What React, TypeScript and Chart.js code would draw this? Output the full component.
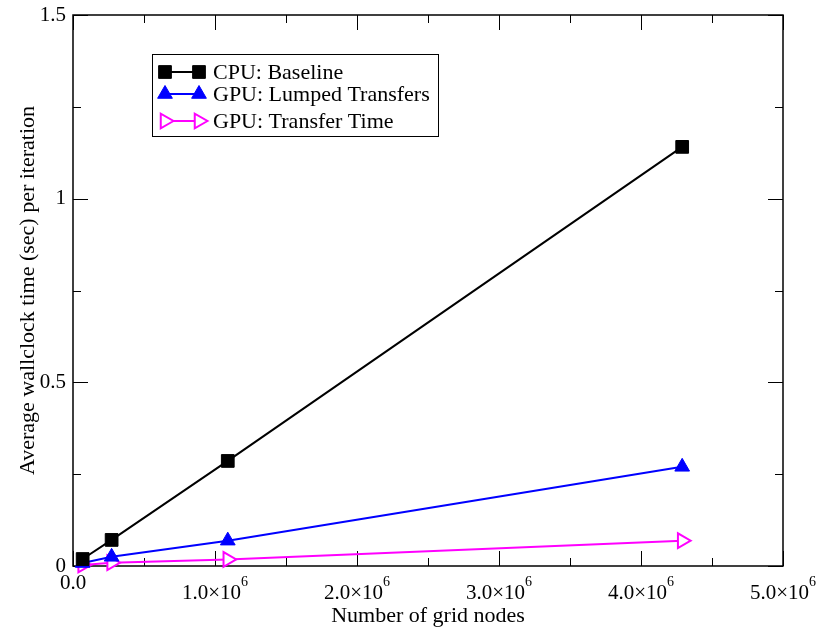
import React, { useEffect, useRef } from "react";
import { Chart, registerables } from "chart.js";
Chart.register(...registerables);

const gridNodes = [68000, 272000, 1090000, 4290000];
const cpuBaseline = [0.019, 0.071, 0.286, 1.141];
const gpuLumped = [0.008, 0.025, 0.069, 0.27];
const gpuTransfer = [0.003, 0.009, 0.018, 0.069];
const seriesNames = ["CPU: Baseline", "GPU: Lumped Transfers", "GPU: Transfer Time"];

const xMajorTicks = [0, 1e6, 2e6, 3e6, 4e6, 5e6];
const xTickLabels = ["0.0", "1.0×10^6", "2.0×10^6", "3.0×10^6", "4.0×10^6", "5.0×10^6"];
const xMinorTicks = [0.5e6, 1.5e6, 2.5e6, 3.5e6, 4.5e6];
const yMajorTicks = [0, 0.5, 1, 1.5];
const yTickLabels = ["0", "0.5", "1", "1.5"];
const yMinorTicks = [0.25, 0.75, 1.25];

const xTitle = "Number of grid nodes";
const yTitle = "Average wallclock time (sec) per iteration";

const FONT = '"Liberation Serif", "DejaVu Serif", serif';

const framePlugin = {
  id: "xmgraceFrame",
  beforeDatasetsDraw(chart: any) {
    const { ctx, chartArea: a, scales } = chart;
    const x = scales.x, y = scales.y;
    ctx.save();
    ctx.strokeStyle = "#000";
    ctx.lineWidth = 1;
    const tick = (vals: number[], len: number) => {
      vals.forEach((v) => {
        const px = Math.round(x.getPixelForValue(v)) + 0.5;
        ctx.beginPath();
        ctx.moveTo(px, a.bottom);
        ctx.lineTo(px, a.bottom - len);
        ctx.moveTo(px, a.top);
        ctx.lineTo(px, a.top + len);
        ctx.stroke();
      });
    };
    const ytick = (vals: number[], len: number) => {
      vals.forEach((v) => {
        const py = Math.round(y.getPixelForValue(v)) + 0.5;
        ctx.beginPath();
        ctx.moveTo(a.left, py);
        ctx.lineTo(a.left + len, py);
        ctx.moveTo(a.right, py);
        ctx.lineTo(a.right - len, py);
        ctx.stroke();
      });
    };
    tick(xMajorTicks, 15);
    tick(xMinorTicks, 8);
    ytick(yMajorTicks, 15);
    ytick(yMinorTicks, 8);
    ctx.lineWidth = 1.5;
    ctx.strokeRect(a.left, a.top, a.right - a.left, a.bottom - a.top);
    ctx.restore();
  },
  afterDraw(chart: any) {
    const { ctx, chartArea: a, scales } = chart;
    const x = scales.x, y = scales.y;
    ctx.save();
    ctx.fillStyle = "#000";
    // x tick labels
    xMajorTicks.forEach((v, i) => {
      const label = xTickLabels[i];
      const px = x.getPixelForValue(v);
      const parts = label.split("^");
      ctx.textBaseline = "alphabetic";
      ctx.textAlign = "left";
      ctx.font = `21px ${FONT}`;
      const wMain = ctx.measureText(parts[0]).width;
      let wSup = 0;
      if (parts.length > 1) {
        ctx.font = `14px ${FONT}`;
        wSup = ctx.measureText(parts[1]).width;
      }
      const start = px - (wMain + wSup) / 2;
      ctx.font = `21px ${FONT}`;
      if (parts.length > 1) {
        ctx.fillText(parts[0], start, a.bottom + 33);
        ctx.font = `14px ${FONT}`;
        ctx.fillText(parts[1], start + wMain, a.bottom + 20);
      } else {
        ctx.fillText(parts[0], start, a.bottom + 23);
      }
    });
    // y tick labels
    ctx.font = `21px ${FONT}`;
    ctx.textAlign = "right";
    ctx.textBaseline = "middle";
    yMajorTicks.forEach((v, i) => {
      ctx.fillText(yTickLabels[i], a.left - 7, y.getPixelForValue(v));
    });
    // titles
    ctx.textAlign = "center";
    ctx.textBaseline = "alphabetic";
    ctx.font = `22px ${FONT}`;
    ctx.fillText(xTitle, (a.left + a.right) / 2, a.bottom + 56);
    ctx.save();
    ctx.translate(34, (a.top + a.bottom) / 2);
    ctx.rotate(-Math.PI / 2);
    ctx.fillText(yTitle, 0, 0);
    ctx.restore();

    // legend
    const bx = 152, by = 54, bw = 286, bh = 82;
    ctx.fillStyle = "#fff";
    ctx.fillRect(bx, by, bw, bh);
    ctx.strokeStyle = "#000";
    ctx.lineWidth = 1;
    ctx.strokeRect(bx + 0.5, by + 0.5, bw, bh);
    const rows = [72, 94, 121];
    chart.data.datasets.forEach((ds: any, i: number) => {
      const ry = rows[i];
      const meta = chart.getDatasetMeta(i);
      ctx.strokeStyle = ds.borderColor;
      ctx.lineWidth = ds.borderWidth;
      ctx.beginPath();
      ctx.moveTo(165, ry);
      ctx.lineTo(199, ry);
      ctx.stroke();
      const el = meta.data[0];
      if (el) {
        const ox = el.x, oy = el.y;
        el.x = 165; el.y = ry; el.draw(ctx);
        el.x = 199; el.y = ry; el.draw(ctx);
        el.x = ox; el.y = oy;
      }
      ctx.fillStyle = "#000";
      ctx.font = `22px ${FONT}`;
      ctx.textAlign = "left";
      ctx.textBaseline = "middle";
      ctx.fillText(ds.label, 213, ry + 1);
    });
    ctx.restore();
  },
};

export default function App() {
  const ref = useRef<HTMLCanvasElement>(null);
  useEffect(() => {
    if (!ref.current) return;
    const mk = (vals: number[]) => gridNodes.map((g, i) => ({ x: g, y: vals[i] }));
    const chart = new Chart(ref.current, {
      type: "line",
      data: {
        datasets: [
          {
            label: seriesNames[0],
            data: mk(cpuBaseline),
            borderColor: "#000000",
            backgroundColor: "#000000",
            borderWidth: 2,
            pointStyle: "rect",
            pointRadius: 9,
            pointBackgroundColor: "#000000",
            pointBorderColor: "#000000",
            pointBorderWidth: 1,
            pointRotation: 0,
            clip: false as any,
          },
          {
            label: seriesNames[1],
            data: mk(gpuLumped),
            borderColor: "#0000ff",
            backgroundColor: "#0000ff",
            borderWidth: 2,
            pointStyle: "triangle",
            pointRadius: 8.5,
            pointBackgroundColor: "#0000ff",
            pointBorderColor: "#0000ff",
            pointBorderWidth: 1,
            pointRotation: 0,
            clip: false as any,
          },
          {
            label: seriesNames[2],
            data: mk(gpuTransfer),
            borderColor: "#ff00ff",
            backgroundColor: "#ffffff",
            borderWidth: 2,
            pointStyle: "triangle",
            pointRadius: 8.5,
            pointBackgroundColor: "#ffffff",
            pointBorderColor: "#ff00ff",
            pointBorderWidth: 2,
            pointRotation: 90,
            clip: false as any,
          },
        ],
      },
      options: {
        animation: false,
        responsive: false,
        devicePixelRatio: 1,
        layout: { padding: { left: 73, right: 35, top: 15, bottom: 63 } },
        plugins: { legend: { display: false }, tooltip: { enabled: false } },
        elements: { line: { tension: 0 } },
        scales: {
          x: { type: "linear", min: 0, max: 5e6, display: false },
          y: { type: "linear", min: 0, max: 1.5, display: false },
        },
      },
      plugins: [framePlugin],
    });
    return () => chart.destroy();
  }, []);
  return (
    <div style={{ position: "absolute", left: 0, top: 0, width: 818, height: 629, background: "#fff" }}>
      <canvas ref={ref} width={818} height={629} style={{ display: "block" }} />
    </div>
  );
}
